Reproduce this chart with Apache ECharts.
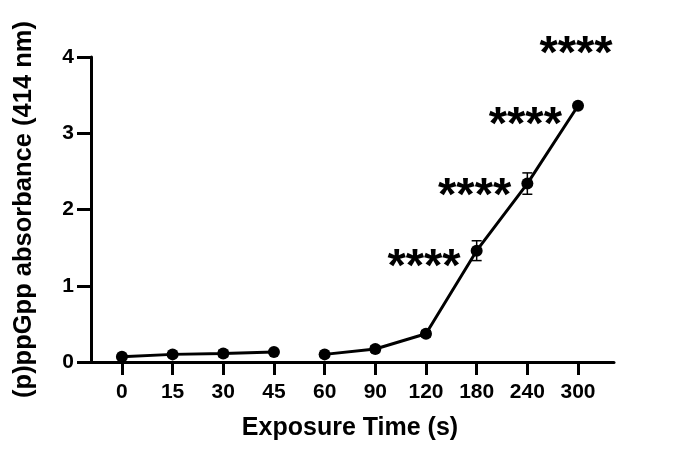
<!DOCTYPE html>
<html>
<head>
<meta charset="utf-8">
<script src="https://cdn.jsdelivr.net/npm/echarts@6/dist/echarts.min.js"></script>
<style>html,body{margin:0;padding:0;background:#fff}#c{width:684px;height:467px}</style>
</head>
<body>
<div id="c"></div>
<script>
const categories = ['0','15','30','45','60','90','120','180','240','300'];
const values = [0.07, 0.10, 0.11, 0.13, 0.10, 0.17, 0.37, 1.46, 2.34, 3.36];
const errors = [0.01, 0.01, 0.04, 0.02, 0.01, 0.04, 0.04, 0.13, 0.14, 0.02];
const segments = [[0,3],[4,9]];
const starIdx = [6, 7, 8, 9];
const starY = [1.36, 2.29, 3.23, 4.16];
const starText = '****';
const yTicks = [0,1,2,3,4];

const FONT = 'Liberation Sans, Arial, sans-serif';
const chart = echarts.init(document.getElementById('c'));
const lineSeries = segments.map(([a,b]) => ({
  type: 'line',
  data: values.slice(a, b+1).map((v,i) => [a+i, v]),
  symbol: 'circle', symbolSize: 12,
  lineStyle: {color:'#000', width: 3},
  itemStyle: {color:'#000'},
  z: 3, animation: false
}));
const errSeries = {
  type: 'custom',
  data: values.map((v,i) => [i, v - errors[i], v + errors[i]]),
  renderItem: (params, api) => {
    const lo = api.coord([api.value(0), api.value(1)]);
    const hi = api.coord([api.value(0), api.value(2)]);
    const w = 5;
    const st = {stroke:'#000', lineWidth: 1.5};
    return {type:'group', children:[
      {type:'line', shape:{x1:lo[0],y1:lo[1],x2:hi[0],y2:hi[1]}, style:st},
      {type:'line', shape:{x1:lo[0]-w,y1:lo[1],x2:lo[0]+w,y2:lo[1]}, style:st},
      {type:'line', shape:{x1:hi[0]-w,y1:hi[1],x2:hi[0]+w,y2:hi[1]}, style:st}
    ]};
  },
  z: 2, animation: false
};
const starSeries = {
  type: 'scatter',
  data: starIdx.map((i,k) => [i, starY[k]]),
  symbolSize: 0, clip: false, silent: true,
  itemStyle: {opacity: 1, color: '#000'},
  label: {show: true, position: 'inside', formatter: starText, color:'#000', opacity: 1,
    fontFamily: FONT, fontWeight: 'bold', fontSize: 47, offset:[-2, 10]},
  z: 5, animation: false
};
chart.setOption({
  animation: false,
  grid: {left: 91, right: 70, top: 57, bottom: 105},
  xAxis: {
    type: 'value', min: -0.61, max: 9.71,
    name: 'Exposure Time (s)', nameLocation: 'middle', nameGap: 54,
    nameTextStyle: {fontFamily: FONT, fontWeight:'bold', fontSize: 25, color:'#000', padding:[0,5,0,0]},
    axisLine: {show: true, lineStyle: {color:'#000', width: 3}},
    axisTick: {show: true, customValues: categories.map((c,i)=>i), length: 13, lineStyle:{color:'#000', width: 3}},
    axisLabel: {customValues: categories.map((c,i)=>i), formatter: v => categories[Math.round(v)],
      fontFamily: FONT, fontWeight:'bold', fontSize: 21, color:'#000', margin: 20},
    splitLine: {show: false}
  },
  yAxis: {
    type: 'value', min: 0, max: 4, interval: 1,
    name: '(p)ppGpp absorbance (414 nm)', nameLocation: 'middle', nameGap: 54,
    nameTextStyle: {fontFamily: FONT, fontWeight:'bold', fontSize: 25.5, color:'#000'},
    axisLine: {show: true, onZero: false, lineStyle: {color:'#000', width: 3}},
    axisTick: {show: true, length: 14, lineStyle:{color:'#000', width: 3}},
    axisLabel: {formatter: v => yTicks.includes(v) ? String(v) : '', fontFamily: FONT, fontWeight:'bold', fontSize: 21, color:'#000', margin: 17},
    splitLine: {show: false}
  },
  series: [...lineSeries, errSeries, starSeries]
});
</script>
</body>
</html>
